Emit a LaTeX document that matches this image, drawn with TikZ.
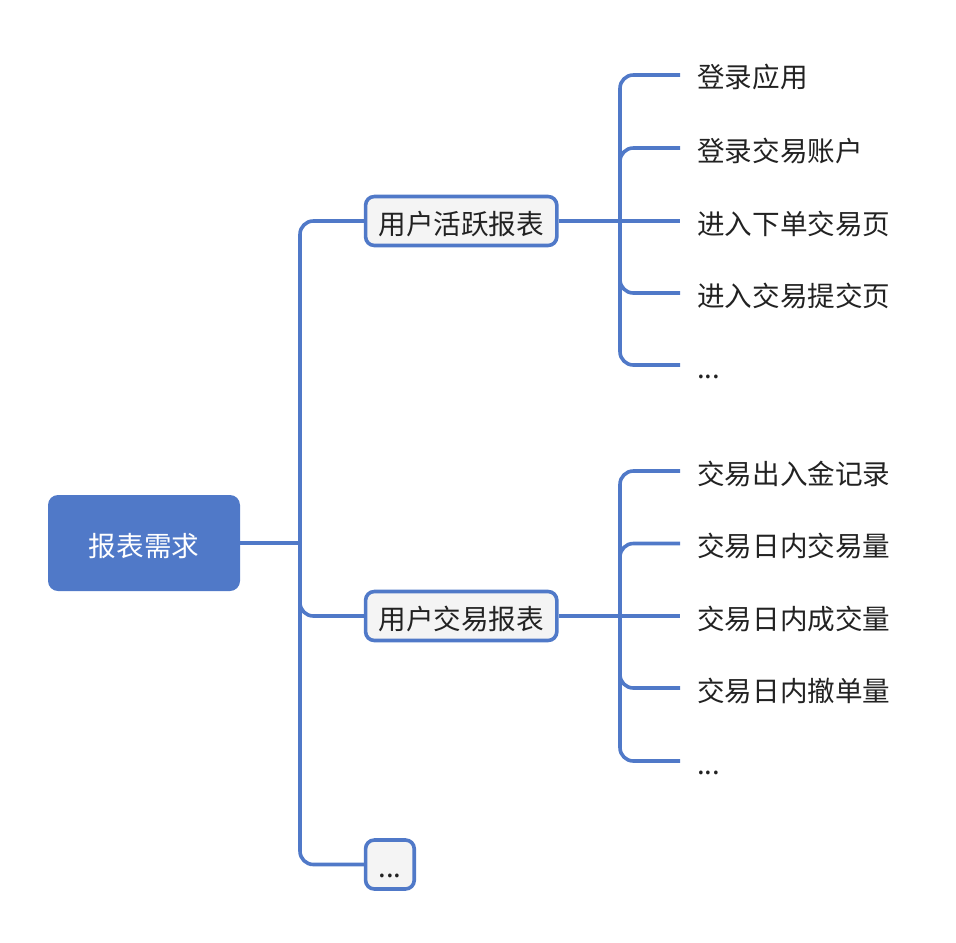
\documentclass[tikz,border=0pt]{standalone}
\usepackage{fontspec}
\setmainfont{Noto Sans CJK SC}
\usetikzlibrary{positioning}
\definecolor{MapBlue}{HTML}{5079C8}
\definecolor{BoxGray}{HTML}{F4F4F4}
\definecolor{InkGray}{HTML}{222222}

\begin{document}
\begin{tikzpicture}[x=0.75pt,y=-0.75pt,
		font=\fontsize{20.7pt}{24pt}\selectfont,
		Root/.style={rectangle,fill=MapBlue,text=white,rounded corners=7.5pt,minimum width=144pt,minimum height=72pt,text height=19.5pt,text depth=0pt},
		Topic/.style={rectangle,anchor=west,draw=MapBlue,fill=BoxGray,line width=2.7pt,rounded corners=6.5pt,text=InkGray,inner xsep=9.6pt,inner ysep=8.6pt,text height=19.5pt,text depth=0pt},
		Leaf/.style={anchor=west,text=InkGray,inner xsep=12.75pt,inner ysep=0pt,text height=19.5pt,text depth=0pt},
		Link/.style={draw=MapBlue,line width=2.7pt,rounded corners=10pt}]
		\useasboundingbox (0,0) rectangle (956,942);
		% nodes
		\node[Root] (Report) at (144,543) {报表需求};
		\node[Topic] (Active) at (363.8,221) {用户活跃报表};
		\node[Topic] (Trade) at (363.8,616) {用户交易报表};
		\node[Topic] (More) at (363.8,864.5) {...};
		\node[Leaf] (Login) at (680,75) {登录应用};
		\node[Leaf] (Account) at (680,148) {登录交易账户};
		\node[Leaf] (OrderPage) at (680,221) {进入下单交易页};
		\node[Leaf] (SubmitPage) at (680,293) {进入交易提交页};
		\node[Leaf] (ActiveMore) at (680,365) {...};
		\node[Leaf] (Funds) at (680,471) {交易出入金记录};
		\node[Leaf] (Volume) at (680,543.5) {交易日内交易量};
		\node[Leaf] (Deals) at (680,616) {交易日内成交量};
		\node[Leaf] (Cancels) at (680,688) {交易日内撤单量};
		\node[Leaf] (TradeMore) at (680,761) {...};
		\coordinate (Fork) at (300,543);
		\coordinate (ActiveHub) at (620,221);
		\coordinate (TradeHub) at (620,616);
		% connections
		\draw[Link] (Report.east) -- (Fork);
		\draw[Link] (Fork) |- (Active.west);
		\draw[Link] (Fork) |- (Trade.west);
		\draw[Link] (Fork) |- (More.west);
		\draw[Link] (Active.east) -- (ActiveHub);
		\draw[Link] (ActiveHub) |- (Login.west);
		\draw[Link] (ActiveHub) |- (Account.west);
		\draw[Link] (ActiveHub) -- (OrderPage.west);
		\draw[Link] (ActiveHub) |- (SubmitPage.west);
		\draw[Link] (ActiveHub) |- (ActiveMore.west);
		\draw[Link] (Trade.east) -- (TradeHub);
		\draw[Link] (TradeHub) |- (Funds.west);
		\draw[Link] (TradeHub) |- (Volume.west);
		\draw[Link] (TradeHub) -- (Deals.west);
		\draw[Link] (TradeHub) |- (Cancels.west);
		\draw[Link] (TradeHub) |- (TradeMore.west);
	\end{tikzpicture}
\end{document}
